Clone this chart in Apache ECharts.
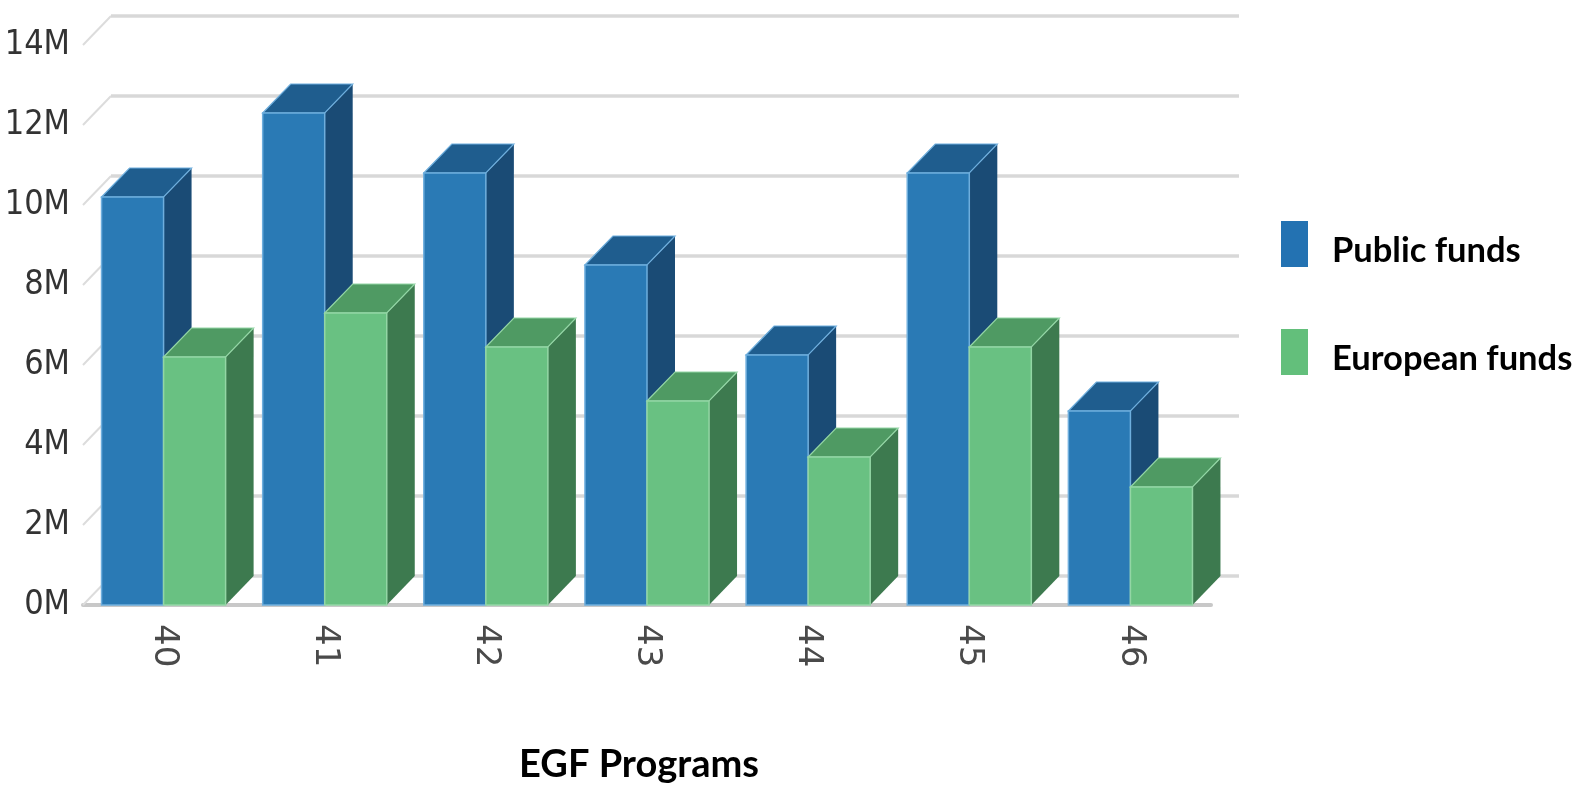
<!DOCTYPE html>
<html>
<head>
<meta charset="utf-8">
<script src="https://cdn.jsdelivr.net/npm/echarts@6/dist/echarts.min.js"></script>
<style>
  html, body { margin: 0; padding: 0; background: #ffffff; }
  #chart { width: 1587px; height: 786px; }
</style>
</head>
<body>
<div id="chart"></div>
<script>
// ---- data ----
var categories = ['40', '41', '42', '43', '44', '45', '46'];
var publicFunds = [10.2, 12.3, 10.8, 8.5, 6.25, 10.8, 4.85];
var europeanFunds = [6.2, 7.3, 6.45, 5.1, 3.7, 6.45, 2.95];
var yTicks = [0, 2, 4, 6, 8, 10, 12, 14];
var yTickLabels = ['0M', '2M', '4M', '6M', '8M', '10M', '12M', '14M'];
var seriesNames = ['Public funds', 'European funds'];
var xAxisTitle = 'EGF Programs';

// ---- style ----
var DEPTH_X = 28, DEPTH_Y = -29;
var BAR_FRAC = 0.385;
var palette = {
  blue:  { front: '#2a7ab5', top: '#1f5d8e', side: '#1a4b75', edge: '#6eaedd', legend: '#2372b2' },
  green: { front: '#69c182', top: '#4f9a63', side: '#3d7a4f', edge: '#93d6a5', legend: '#63bf7b' }
};
// legend swatch: filled block in the upper part of the item box, so the label sits a bit lower
var legendIcon = 'path://M0 0H27V46H0Z M0 60H0.01V60.01H0Z';

function barRenderer(side, col) {
  return function (params, api) {
    var idx = api.value(0), val = api.value(1);
    var top = api.coord([idx, val]);
    var base = api.coord([idx, 0]);
    var band = api.size([1, 0])[0];
    var w = band * BAR_FRAC;
    var x0 = side < 0 ? top[0] - w : top[0];
    var x1 = x0 + w;
    var yT = top[1], yB = base[1];
    var dx = DEPTH_X, dy = DEPTH_Y;
    return {
      type: 'group',
      children: [
        { type: 'polygon',
          shape: { points: [[x1, yB], [x1, yT], [x1 + dx, yT + dy], [x1 + dx, yB + dy]] },
          style: { fill: col.side } },
        { type: 'polygon',
          shape: { points: [[x0, yT], [x1, yT], [x1 + dx, yT + dy], [x0 + dx, yT + dy]] },
          style: { fill: col.top, stroke: col.edge, lineWidth: 1.2 } },
        { type: 'rect',
          shape: { x: x0, y: yT, width: w, height: yB - yT },
          style: { fill: col.front, stroke: col.edge, lineWidth: 1.5 } }
      ]
    };
  };
}

function gridRenderer(params, api) {
  var cs = params.coordSys;
  var y = api.coord([0, api.value(1)])[1];
  var gx = cs.x, gw = cs.width;
  return {
    type: 'group',
    children: [
      { type: 'line',
        shape: { x1: gx, y1: y, x2: gx + DEPTH_X, y2: y + DEPTH_Y },
        style: { stroke: '#dcdcdc', lineWidth: 2 } },
      { type: 'line',
        shape: { x1: gx + DEPTH_X, y1: y + DEPTH_Y, x2: gx + DEPTH_X + gw, y2: y + DEPTH_Y },
        style: { stroke: '#d8d8d8', lineWidth: 3.5 } }
    ]
  };
}

var chart = echarts.init(document.getElementById('chart'), null, { renderer: 'canvas' });
chart.setOption({
  backgroundColor: '#ffffff',
  animation: false,
  title: {
    text: xAxisTitle,
    left: 634,
    top: 741,
    textAlign: 'center',
    textStyle: { fontFamily: 'Lato', fontWeight: 'bold', fontSize: 38, color: '#000000' }
  },
  legend: {
    data: seriesNames,
    orient: 'vertical',
    left: 1276,
    top: 216,
    itemWidth: 27,
    itemHeight: 60,
    itemGap: 48,
    icon: legendIcon,
    itemStyle: { borderWidth: 0 },
    selectedMode: false,
    textStyle: { fontFamily: 'Lato', fontWeight: 'bold', fontSize: 34.5, color: '#000000', padding: [0, 0, 0, 19] }
  },
  grid: { left: 83, right: 376, top: 45, bottom: 181, containLabel: false },
  xAxis: {
    type: 'category',
    data: categories,
    axisLine: { show: true, lineStyle: { color: '#c8c8c8', width: 4 } },
    axisTick: { show: false },
    splitLine: { show: false },
    axisLabel: {
      rotate: -90,
      margin: 19,
      fontFamily: 'DejaVu Sans',
      fontSize: 34,
      color: '#4a4a4a'
    }
  },
  yAxis: {
    type: 'value',
    min: 0,
    max: 14,
    interval: 2,
    axisLine: { show: false },
    axisTick: { show: false },
    splitLine: { show: false },
    axisLabel: {
      margin: 13,
      fontFamily: "'DejaVu Sans Condensed', sans-serif",
      fontSize: 34,
      color: '#333333',
      formatter: function (v) { return yTickLabels[yTicks.indexOf(v)]; }
    }
  },
  series: [
    {
      name: 'backgrid',
      type: 'custom',
      z: 1,
      silent: true,
      renderItem: gridRenderer,
      data: yTicks.map(function (t) { return [0, t]; })
    },
    {
      name: seriesNames[0],
      type: 'custom',
      z: 2,
      itemStyle: { color: palette.blue.legend },
      renderItem: barRenderer(-1, palette.blue),
      encode: { x: 0, y: 1 },
      data: publicFunds.map(function (v, i) { return [i, v]; })
    },
    {
      name: seriesNames[1],
      type: 'custom',
      z: 3,
      itemStyle: { color: palette.green.legend },
      renderItem: barRenderer(1, palette.green),
      encode: { x: 0, y: 1 },
      data: europeanFunds.map(function (v, i) { return [i, v]; })
    }
  ]
});
</script>
</body>
</html>
